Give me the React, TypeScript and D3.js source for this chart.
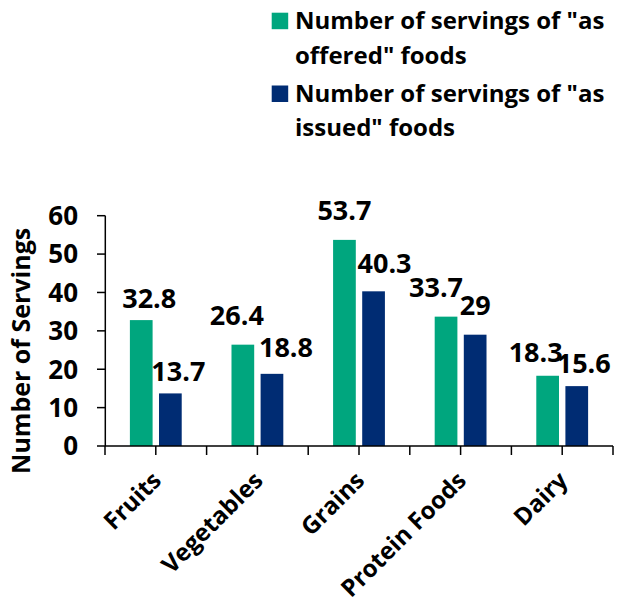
import React from "react";
import * as d3 from "d3";

const categories = ["Fruits", "Vegetables", "Grains", "Protein Foods", "Dairy"];
const offered = [32.8, 26.4, 53.7, 33.7, 18.3];
const issued = [13.7, 18.8, 40.3, 29, 15.6];
const seriesNames = ['Number of servings of "as offered" foods', 'Number of servings of "as issued" foods'];
const legendLines = [
  ['Number of servings of "as', 'offered" foods'],
  ['Number of servings of "as', 'issued" foods'],
];
const yTicks = [0, 10, 20, 30, 40, 50, 60];

// label nudges (px) relative to bar centre / top, mimicking the manual placement
const OFFERED_NUDGE = [[8, -12], [-6, -20], [0, -20], [-10, -20], [-12, -14]];
const ISSUED_NUDGE = [[8, -12], [14, -17], [11, -18], [0, -20], [7, -13]];

const COLORS = ["#00A67E", "#002C73"];
const FONT = "'Open Sans', 'Noto Sans', sans-serif";

export default function App() {
  const width = 620;
  const height = 605;
  const y = d3.scaleLinear().domain([0, 60]).range([446, 215.7]);
  const x0 = d3.scaleBand().domain(categories).range([105, 613]).paddingInner(0).paddingOuter(0);
  const x1 = d3
    .scaleBand()
    .domain(["offered", "issued"])
    .range([0, x0.bandwidth()])
    .paddingInner(0.22)
    .paddingOuter(0.855);
  const series = [
    { key: "offered", values: offered, nudge: OFFERED_NUDGE },
    { key: "issued", values: issued, nudge: ISSUED_NUDGE },
  ];
  const xTicks: number[] = [];
  categories.forEach((c) => {
    xTicks.push(x0(c)!);
    xTicks.push(x0(c)! + x0.bandwidth() / 2);
  });
  xTicks.push(x0.range()[1]);

  return (
    <svg
      width={width}
      height={height}
      style={{ position: "absolute", left: 0, top: 0, background: "#fff" }}
      fontFamily={FONT}
      fontWeight="bold"
    >
      {/* legend */}
      {legendLines.map((lines, i) => (
        <g key={i}>
          <rect x={271.7} y={12.7 + i * 72.8} width={16.5} height={16.5} fill={COLORS[i]}>
            <title>{seriesNames[i]}</title>
          </rect>
          {lines.map((l, j) => (
            <text key={j} x={295} y={29.3 + i * 72.6 + j * 34.2} fontSize={24} fill="#000">
              {l}
            </text>
          ))}
        </g>
      ))}

      {/* bars */}
      {series.map((s, si) =>
        categories.map((c, ci) => (
          <rect
            key={s.key + c}
            x={x0(c)! + x1(s.key)!}
            y={y(s.values[ci])}
            width={x1.bandwidth()}
            height={y(0) - y(s.values[ci])}
            fill={COLORS[si]}
          />
        ))
      )}

      {/* value labels */}
      {series.map((s, si) =>
        categories.map((c, ci) => (
          <text
            key={"l" + s.key + c}
            x={x0(c)! + x1(s.key)! + x1.bandwidth() / 2 + s.nudge[ci][0]}
            y={y(s.values[ci]) + s.nudge[ci][1]}
            textAnchor="middle"
            fontSize={27}
            fill="#000"
          >
            {String(s.values[ci])}
          </text>
        ))
      )}

      {/* y axis */}
      <line x1={105.3} x2={105.3} y1={y(60)} y2={y(0)} stroke="#000" strokeWidth={1.5} />
      {yTicks.map((t) => (
        <g key={t}>
          <line x1={97} x2={105.3} y1={y(t)} y2={y(t)} stroke="#000" strokeWidth={1.5} />
          <text x={78} y={y(t)} dy="0.36em" textAnchor="end" fontSize={26} fill="#000">
            {t}
          </text>
        </g>
      ))}
      <text
        transform={`translate(30, ${(y(0) + y(60)) / 2 + 20}) rotate(-90)`}
        textAnchor="middle"
        fontSize={25}
        fill="#000"
      >
        Number of Servings
      </text>

      {/* x axis */}
      <line x1={105} x2={613} y1={y(0)} y2={y(0)} stroke="#000" strokeWidth={1.5} />
      {xTicks.map((t, i) => (
        <line key={i} x1={t} x2={t} y1={y(0)} y2={y(0) + 9} stroke="#000" strokeWidth={1.5} />
      ))}
      {categories.map((c) => (
        <text
          key={c}
          transform={`translate(${x0(c)! + x0.bandwidth() / 2 + 7}, 482) rotate(-45)`}
          textAnchor="end"
          fontSize={24}
          fill="#000"
        >
          {c}
        </text>
      ))}
    </svg>
  );
}
